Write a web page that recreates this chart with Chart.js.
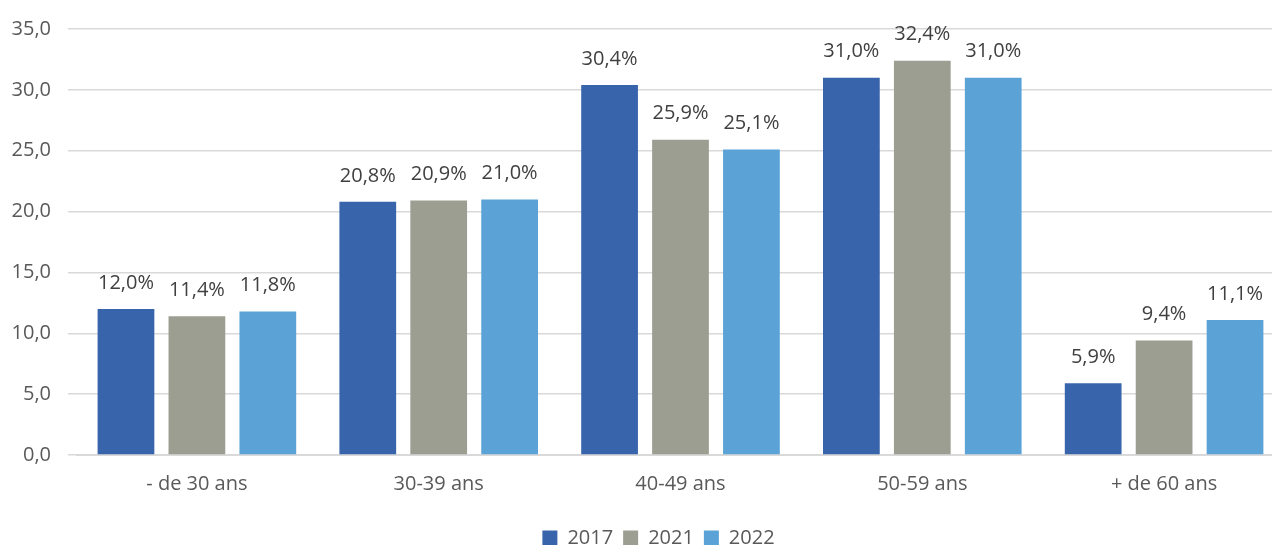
<!DOCTYPE html>
<html>
<head>
<meta charset="utf-8">
<script src="https://cdn.jsdelivr.net/npm/chart.js@4/dist/chart.umd.min.js"></script>
<style>
  html, body { margin: 0; padding: 0; background: #fff; overflow: hidden; }
  #wrap { width: 1285px; height: 545px; position: relative; }
</style>
</head>
<body>
<div id="wrap"><canvas id="myChart"></canvas></div>
<script>
const categories = ['- de 30 ans', '30-39 ans', '40-49 ans', '50-59 ans', '+ de 60 ans'];
const values2017 = [12.0, 20.8, 30.4, 31.0, 5.9];
const values2021 = [11.4, 20.9, 25.9, 32.4, 9.4];
const values2022 = [11.8, 21.0, 25.1, 31.0, 11.1];

const fmt = (v, d) => v.toFixed(d).replace('.', ',');

// labels above each bar
const barLabels = {
  id: 'barLabels',
  afterDatasetsDraw(chart) {
    const c = chart.ctx;
    c.save();
    c.font = '20px "Open Sans"';
    c.fillStyle = '#404040';
    c.textAlign = 'center';
    c.textBaseline = 'middle';
    chart.data.datasets.forEach((ds, i) => {
      chart.getDatasetMeta(i).data.forEach((bar, j) => {
        c.fillText(fmt(ds.data[j], 1) + '%', bar.x, bar.y - 26);
      });
    });
    c.restore();
  }
};

// nudge the legend into place
const legendTweak = {
  id: 'legendTweak',
  afterLayout(chart) {
    const lg = chart.legend;
    lg.left += 16; lg.right += 16;
    lg.top += 13; lg.bottom += 13;
  }
};

const ctx = document.getElementById('myChart').getContext('2d');
const chart = new Chart(ctx, {
  type: 'bar',
  data: {
    labels: categories,
    datasets: [
      { label: '2017', data: values2017, backgroundColor: '#3764AB' },
      { label: '2021', data: values2021, backgroundColor: '#9C9E92' },
      { label: '2022', data: values2022, backgroundColor: '#5BA3D6' }
    ]
  },
  options: {
    responsive: true,
    maintainAspectRatio: false,
    animation: false,
    categoryPercentage: 0.88,
    barPercentage: 0.8,
    layout: { padding: { top: 29, right: 0, left: 0, bottom: 0 } },
    plugins: {
      legend: {
        position: 'bottom',
        labels: {
          color: '#595959',
          boxWidth: 15,
          boxHeight: 15,
          padding: 10,
          font: { size: 20, family: 'Open Sans' }
        }
      },
      tooltip: { enabled: false }
    },
    scales: {
      x: {
        grid: { display: false },
        border: { color: '#d9d9d9' },
        ticks: { color: '#595959', font: { size: 20, family: 'Open Sans' }, padding: 9 }
      },
      y: {
        min: 0,
        max: 35,
        afterFit(scale) { scale.width = 76; scale.paddingTop = 0; },
        ticks: {
          stepSize: 5,
          color: '#595959',
          padding: 17,
          font: { size: 20, family: 'Open Sans' },
          callback: v => fmt(v, 1)
        },
        grid: { color: '#d9d9d9', lineWidth: 1.5 },
        border: { display: false }
      }
    }
  },
  plugins: [barLabels, legendTweak]
});
</script>
</body>
</html>
